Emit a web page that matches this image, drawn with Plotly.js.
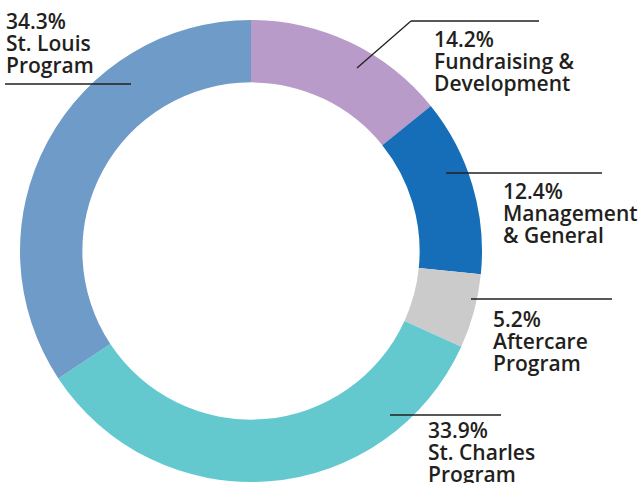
<!DOCTYPE html>
<html>
<head>
<meta charset="utf-8">
<script src="https://cdn.plot.ly/plotly-3.0.1.min.js"></script>
<style>html,body{margin:0;padding:0;background:#fff;}#chart{width:644px;height:483px;}</style>
</head>
<body>
<div id="chart"></div>
<script>
var categories = ["Fundraising & Development", "Management & General", "Aftercare Program", "St. Charles Program", "St. Louis Program"];
var values = [14.2, 12.4, 5.2, 33.9, 34.3];
var labelLines = [
  ["14.2%", "Fundraising &", "Development"],
  ["12.4%", "Management", "& General"],
  ["5.2%", "Aftercare", "Program"],
  ["33.9%", "St. Charles", "Program"],
  ["34.3%", "St. Louis", "Program"]
];
var colors = ["#b99bc9", "#166eb8", "#cbcbcb", "#63c9cf", "#6f9bc8"];

var W = 644, H = 483;
function px(x){ return x / W; }
function py(y){ return 1 - y / H; }

// label layout (pixel positions of text blocks and leader lines)
var textPos = [[432, 39], [501, 191], [491, 319], [426, 430], [4, 21]];
var leaders = [
  [[357, 68], [411, 21], [539, 21]],
  [[446, 173], [602, 173]],
  [[471, 299], [612, 299]],
  [[390, 415], [501, 415]],
  [[5, 84], [131, 84]]
];
var lineGap = 22;

var annotations = [];
labelLines.forEach(function(lines, i){
  lines.forEach(function(t, j){
    annotations.push({
      text: t, xref: "paper", yref: "paper",
      x: px(textPos[i][0]), y: py(textPos[i][1] + j * lineGap),
      xanchor: "left", yanchor: "middle", showarrow: false,
      font: {family: "Open Sans", size: 21, color: "#231f20", weight: 600}
    });
  });
});

var shapes = [];
leaders.forEach(function(pts){
  for (var k = 0; k < pts.length - 1; k++) {
    shapes.push({
      type: "line", xref: "paper", yref: "paper",
      x0: px(pts[k][0]), y0: py(pts[k][1]), x1: px(pts[k+1][0]), y1: py(pts[k+1][1]),
      line: {color: "#231f20", width: 1.3}
    });
  }
});

var data = [{
  type: "pie",
  labels: categories,
  values: values,
  marker: {colors: colors, line: {width: 0}},
  hole: 0.73,
  sort: false,
  direction: "clockwise",
  rotation: 0,
  textinfo: "none",
  hoverinfo: "label+percent",
  domain: {x: [px(20), px(482)], y: [py(482), py(20)]}
}];

var layout = {
  width: W, height: H,
  margin: {l: 0, r: 0, t: 0, b: 0},
  paper_bgcolor: "#ffffff",
  showlegend: false,
  annotations: annotations,
  shapes: shapes
};

Plotly.newPlot("chart", data, layout, {displayModeBar: false, staticPlot: true});
</script>
</body>
</html>
